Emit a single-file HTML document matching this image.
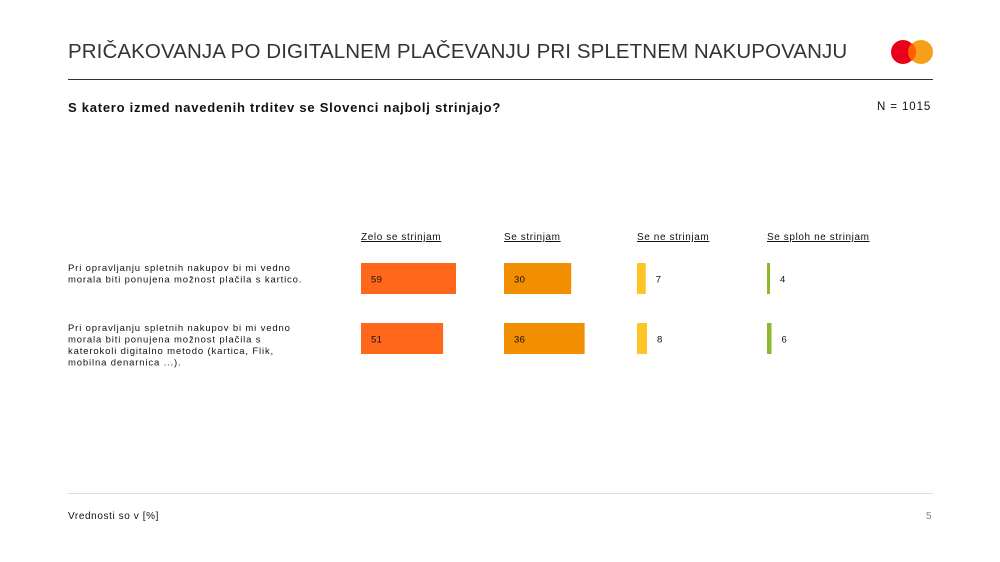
<!DOCTYPE html>
<html><head><meta charset="utf-8"><style>
body{margin:0;width:1000px;height:562px;background:#fff;font-family:"Liberation Sans",sans-serif;color:#111;overflow:hidden;position:relative}
.a{position:absolute}
</style></head><body>
<div class="a" style="left:68px;top:40px;font-size:20.5px;letter-spacing:0.1px;color:#333">PRIČAKOVANJA PO DIGITALNEM PLAČEVANJU PRI SPLETNEM NAKUPOVANJU</div>
<svg class="a" style="left:890px;top:38px" width="46" height="30"><circle cx="13" cy="14" r="12" fill="#eb001b"/><circle cx="31" cy="14" r="12" fill="#f79e1b"/><path d="M22 5a12 12 0 0 1 0 18a12 12 0 0 1 0-18z" fill="#ff5f00"/></svg>
<div class="a" style="left:68px;top:79px;width:865px;height:1px;background:#333"></div>
<div class="a" style="left:68px;top:100px;font-size:13px;font-weight:bold;letter-spacing:0.75px">S katero izmed navedenih trditev se Slovenci najbolj strinjajo?</div>
<div class="a" style="left:877px;top:101px;font-size:11.5px;letter-spacing:0.9px">N = 1015</div>
<svg class="a" id="chart" style="left:0;top:0" width="1000" height="562"></svg>
<div class="a" style="left:68px;top:493px;width:865px;height:1px;background:#ddd"></div>
<div class="a" style="left:68px;top:511px;font-size:10px;letter-spacing:0.6px">Vrednosti so v [%]</div>
<div class="a" style="left:926px;top:511px;font-size:10px;color:#888">5</div>
<script>
const categories=["Zelo se strinjam","Se strinjam","Se ne strinjam","Se sploh ne strinjam "];
const statements=[["Pri opravljanju spletnih nakupov bi mi vedno","morala biti ponujena možnost plačila s kartico."],["Pri opravljanju spletnih nakupov bi mi vedno","morala biti ponujena možnost plačila s","katerokoli digitalno metodo (kartica, Flik,","mobilna denarnica ...)."]];
const row1=[59,30,7,4];
const row2=[51,36,8,6];
const rows=[row1,row2];
const colX=[361,504,637,767];
const colScale=[1.61,2.24,1.25,0.75];
const colors=["#ff671b","#f18f00","#ffc425","#8ab92d"];
const rowY=[263,323];
const svg=document.getElementById('chart');
const NS='http://www.w3.org/2000/svg';
function t(x,y,s,size,name,ls,underline){const e=document.createElementNS(NS,'text');e.setAttribute('x',x);e.setAttribute('y',y);e.setAttribute('font-size',size);e.setAttribute('fill','#111');e.setAttribute('letter-spacing',ls);if(underline)e.setAttribute('text-decoration','underline');e.textContent=s;


svg.appendChild(e);return e;}
categories.forEach((c,i)=>{t(colX[i],240,c,10,'column-header',0.6,true);});
statements.forEach((lines,r)=>{lines.forEach((l,k)=>{t(68,271+r*60+k*11.5,l,9.5,'row-label',0.85);});});
rows.forEach((vals,r)=>{vals.forEach((v,i)=>{
const w=v*colScale[i];
const b=document.createElementNS(NS,'rect');
b.setAttribute('x',colX[i]);b.setAttribute('y',rowY[r]);b.setAttribute('width',w);b.setAttribute('height',31);b.setAttribute('fill',colors[i]);


svg.appendChild(b);
const lx=w>30?colX[i]+10:colX[i]+w+10;
t(lx,rowY[r]+19.5,String(v),9.5,'bar-value',0.3);
});});
</script>
</body></html>
